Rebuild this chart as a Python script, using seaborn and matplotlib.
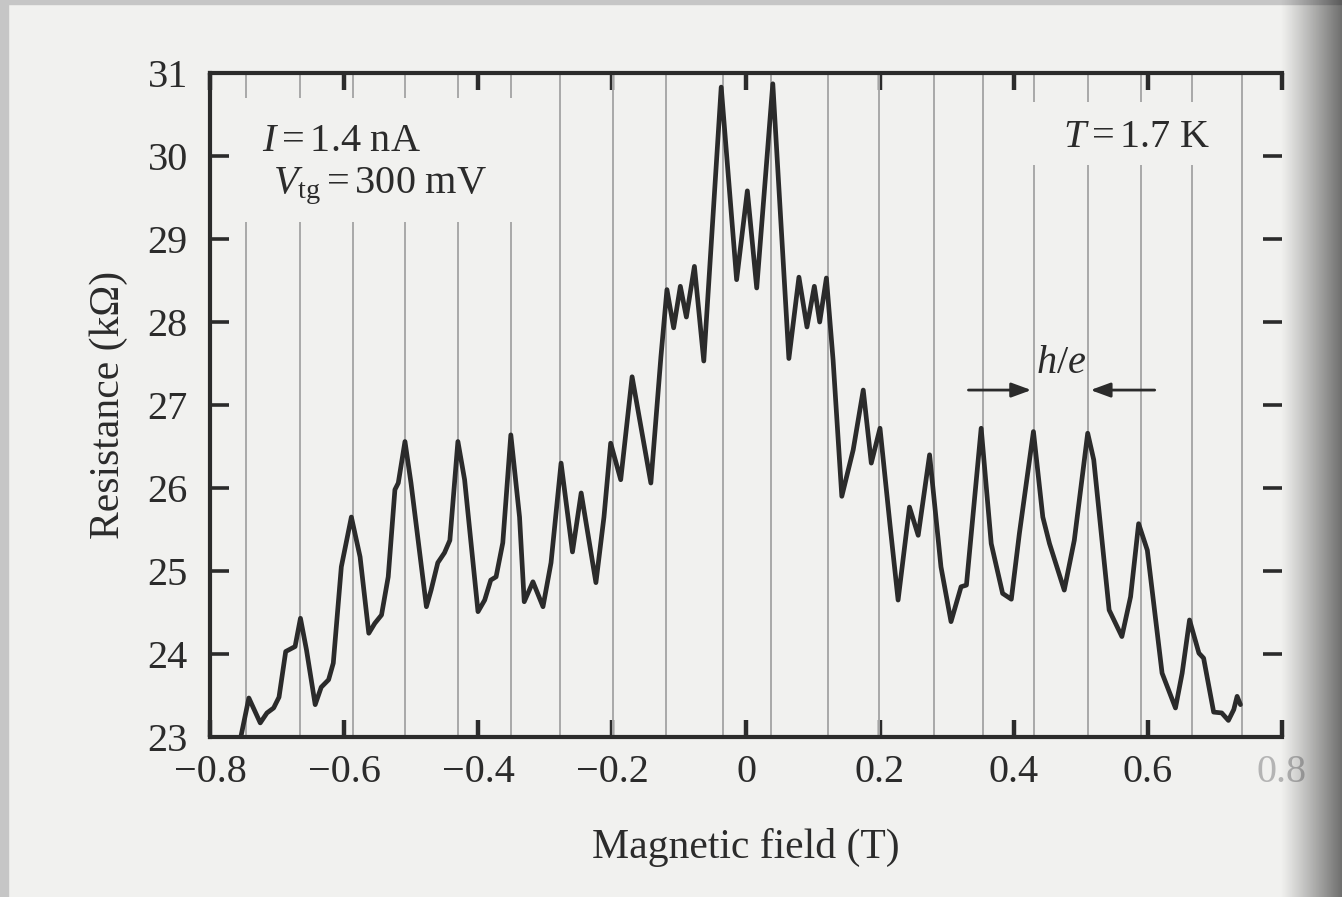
import numpy as np
import pandas as pd
import seaborn as sns
import matplotlib.pyplot as plt
from matplotlib.patches import Rectangle

# magnetoresistance trace
field = [-0.754, -0.742, -0.725, -0.715, -0.705, -0.697, -0.687, -0.673, -0.665, -0.656,
         -0.643, -0.634, -0.623, -0.616, -0.604, -0.589, -0.576, -0.563, -0.554, -0.544,
         -0.534, -0.524, -0.519, -0.509, -0.500, -0.477, -0.470, -0.460, -0.450, -0.442,
         -0.430, -0.420, -0.400, -0.390, -0.381, -0.373, -0.363, -0.351, -0.338, -0.331,
         -0.318, -0.303, -0.291, -0.276, -0.259, -0.246, -0.224, -0.212, -0.202, -0.187,
         -0.170, -0.142, -0.127, -0.118, -0.108, -0.098, -0.089, -0.077, -0.063, -0.037,
         -0.014, 0.002, 0.016, 0.040, 0.064, 0.079, 0.091, 0.102, 0.110, 0.120,
         0.130, 0.143, 0.160, 0.175, 0.187, 0.200, 0.215, 0.227, 0.244, 0.257,
         0.274, 0.291, 0.306, 0.321, 0.329, 0.351, 0.366, 0.383, 0.396, 0.408,
         0.429, 0.443, 0.453, 0.475, 0.490, 0.510, 0.519, 0.542, 0.561, 0.574,
         0.586, 0.599, 0.621, 0.641, 0.651, 0.662, 0.676, 0.683, 0.698, 0.710,
         0.720, 0.728, 0.733, 0.738]
resistance = [23.00, 23.47, 23.17, 23.29, 23.35, 23.48, 24.03, 24.09, 24.43, 24.05,
              23.39, 23.60, 23.69, 23.89, 25.05, 25.65, 25.17, 24.25, 24.37, 24.47,
              24.93, 25.98, 26.06, 26.56, 26.06, 24.57, 24.77, 25.10, 25.22, 25.37,
              26.56, 26.10, 24.51, 24.65, 24.89, 24.93, 25.34, 26.64, 25.65, 24.63,
              24.87, 24.57, 25.10, 26.30, 25.23, 25.94, 24.86, 25.65, 26.54, 26.10,
              27.34, 26.06, 27.58, 28.39, 27.93, 28.43, 28.06, 28.67, 27.53, 30.83,
              28.51, 29.58, 28.41, 30.87, 27.56, 28.54, 27.94, 28.43, 28.00, 28.53,
              27.54, 25.90, 26.46, 27.18, 26.30, 26.72, 25.55, 24.65, 25.77, 25.43,
              26.40, 25.05, 24.39, 24.81, 24.83, 26.72, 25.33, 24.73, 24.66, 25.45,
              26.68, 25.65, 25.33, 24.77, 25.37, 26.66, 26.34, 24.53, 24.21, 24.69,
              25.57, 25.25, 23.77, 23.35, 23.77, 24.41, 24.01, 23.95, 23.30, 23.29,
              23.20, 23.33, 23.49, 23.39]

# h/e period marker lines
period_lines = [-0.747, -0.666, -0.587, -0.509, -0.430, -0.351, -0.278, -0.199, -0.120, -0.034,
                0.037, 0.123, 0.199, 0.280, 0.354, 0.430, 0.510, 0.589, 0.666, 0.741]

x_ticks = [-0.8, -0.6, -0.4, -0.2, 0, 0.2, 0.4, 0.6, 0.8]
x_labels = ["\u22120.8", "\u22120.6", "\u22120.4", "\u22120.2", "0", "0.2", "0.4", "0.6", "0.8"]
y_ticks = [23, 24, 25, 26, 27, 28, 29, 30, 31]

df = pd.DataFrame({"B": field, "R": resistance})

paper = "#f1f1ef"
ink = "#2b2b2b"

sns.set_theme(style="ticks")
plt.rcParams["font.family"] = ["Liberation Serif", "DejaVu Serif"]
plt.rcParams["mathtext.fontset"] = "custom"
plt.rcParams["mathtext.rm"] = "Liberation Serif"
plt.rcParams["mathtext.it"] = "Liberation Serif:italic"

fig = plt.figure(figsize=(13.42, 8.97), dpi=100, facecolor=paper)
ax = fig.add_axes([210 / 1342, 1 - 737 / 897, 1072 / 1342, 664 / 897])
ax.set_facecolor(paper)

for b in period_lines:
    ax.axvline(b, color="#a9a9a9", lw=1.4, zorder=1)

# the marker lines are broken behind the text blocks
ax.add_patch(Rectangle((0.028, 0.776), 0.266, 0.186, transform=ax.transAxes,
                       fc=paper, ec="none", zorder=1.5))
ax.add_patch(Rectangle((0.765, 0.861), 0.173, 0.095, transform=ax.transAxes,
                       fc=paper, ec="none", zorder=1.5))

sns.lineplot(data=df, x="B", y="R", ax=ax, color=ink, linewidth=3.4, estimator=None,
             sort=False, zorder=3, solid_joinstyle="round", solid_capstyle="round")

ax.set_xlim(-0.8, 0.8)
ax.set_ylim(23, 31)
ax.set_xticks(x_ticks)
ax.set_xticklabels(x_labels)
ax.set_yticks(y_ticks)

for side in ["left", "bottom", "top"]:
    ax.spines[side].set_linewidth(3)
    ax.spines[side].set_color(ink)
ax.spines["right"].set_visible(False)

ax.tick_params(axis="x", direction="in", length=12, width=3.2, color=ink,
               labelsize=29, labelcolor=ink, pad=12, top=True)
ax.tick_params(axis="y", direction="in", length=14, width=2.6, color=ink,
               labelsize=29, labelcolor=ink, pad=16, right=True)
ax.get_xticklabels()[-1].set_color("#b4b4b4")

ax.set_xlabel("Magnetic field (T)", fontsize=30, color=ink, labelpad=27)
ax.set_ylabel("Resistance (k\u03a9)", fontsize=30, color=ink, labelpad=14)

ax.text(0.0485, 0.8825, r"$I = 1.4\ \mathrm{nA}$", transform=ax.transAxes,
        fontsize=29, color=ink, va="baseline", ha="left", zorder=2)
ax.text(0.0588, 0.819, r"$V_{\mathrm{tg}} = 300\ \mathrm{mV}$", transform=ax.transAxes,
        fontsize=29, color=ink, va="baseline", ha="left", zorder=2)
ax.text(0.9328, 0.8886, r"$T = 1.7\ \mathrm{K}$", transform=ax.transAxes,
        fontsize=29, color=ink, va="baseline", ha="right", zorder=2)

# h/e period arrows between two marker lines
he_left, he_right = period_lines[15], period_lines[16]
ax.text((he_left + he_right) / 2, 27.39, r"$h/e$", fontsize=29, color=ink,
        ha="center", va="baseline", zorder=4)
arrow = dict(arrowstyle="-|>,head_length=0.6,head_width=0.22", mutation_scale=20,
             lw=2, color=ink, shrinkA=0, shrinkB=2)
ax.annotate("", xy=(he_left, 27.18), xytext=(he_left - 0.098, 27.18), arrowprops=arrow)
ax.annotate("", xy=(he_right, 27.18), xytext=(he_right + 0.1, 27.18), arrowprops=arrow)

# scan frame edges and page-gutter shadow
fig.add_artist(Rectangle((0, 0), 8 / 1342, 1, transform=fig.transFigure,
                         color="#c6c6c6", zorder=20))
fig.add_artist(Rectangle((0, 1 - 4 / 897), 1, 4 / 897, transform=fig.transFigure,
                         color="#c6c6c6", zorder=20))
px = np.arange(1342)
shade = np.zeros((1, 1342, 4))
shade[0, :, 3] = 0.55 * np.clip((px - 1280) / 62, 0, 1) ** 1.1
over = fig.add_axes([0, 0, 1, 1], zorder=30)
over.imshow(shade, aspect="auto", extent=(0, 1, 0, 1))
over.set_axis_off()

fig.savefig("out.png", dpi=100, facecolor=paper)
